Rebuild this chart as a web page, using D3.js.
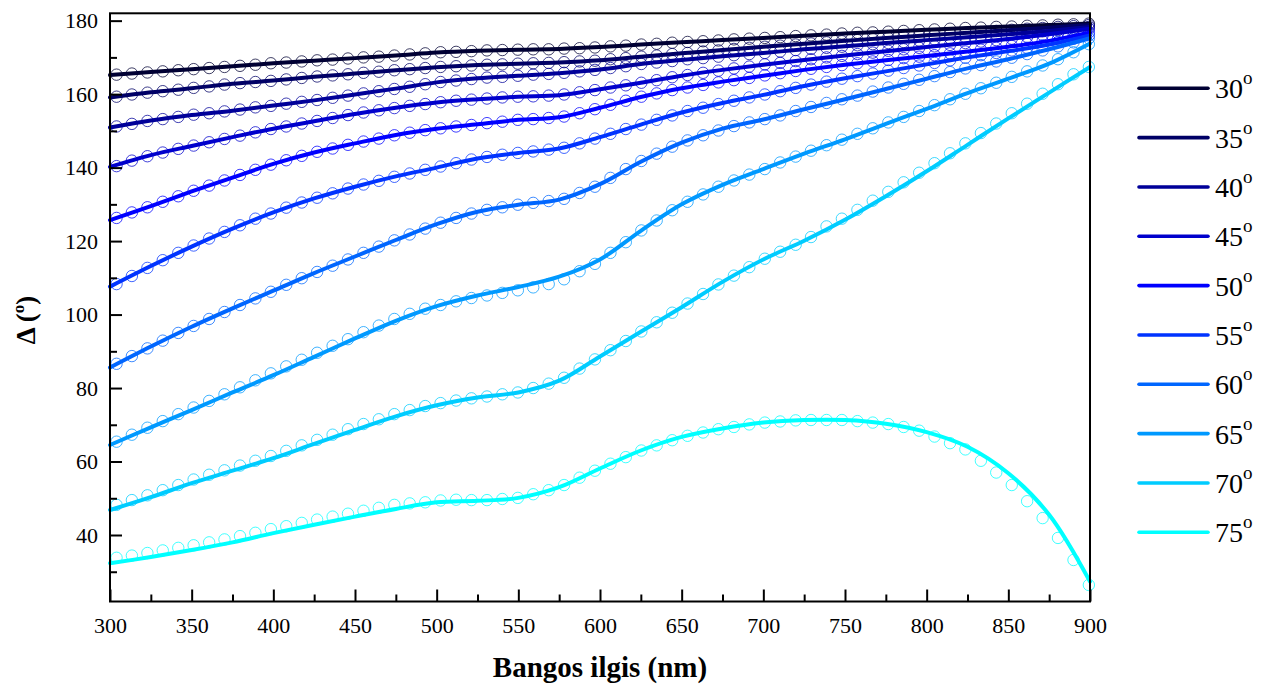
<!DOCTYPE html>
<html><head><meta charset="utf-8">
<script src="https://cdn.jsdelivr.net/npm/d3@7"></script>
<style>
body{margin:0;background:#fff}svg{display:block}
</style>
</head><body><svg id="c" width="1263" height="684"></svg>
<script>
// ---- DATA ----
const fitWavelengths = [300,325,350,375,400,425,450,475,500,525,550,575,600,625,650,675,700,725,750,775,800,825,850,875,900];
const measWavelengths = [304.0,313.4,322.9,332.3,341.8,351.2,360.7,370.1,379.6,389.0,398.5,407.9,417.4,426.8,436.3,445.7,455.2,464.6,474.1,483.5,493.0,502.4,511.9,521.3,530.8,540.2,549.7,559.1,568.6,578.0,587.5,596.9,606.4,615.8,625.3,634.7,644.2,653.6,663.1,672.5,682.0,691.4,700.9,710.3,719.8,729.2,738.7,748.1,757.6,767.0,776.5,785.9,795.4,804.8,814.3,823.7,833.2,842.6,852.1,861.5,871.0,880.4,889.9,899.3];
const angles = ["30","35","40","45","50","55","60","65","70","75"];
const xTicks = [300,350,400,450,500,550,600,650,700,750,800,850,900];
const xMinorTicks = [325,375,425,475,525,575,625,675,725,775,825,875];
const yTicks = [40,60,80,100,120,140,160,180];
const yMinorTicks = [30,50,70,90,110,130,150,170];

const fit30 = [165.2,166.0,166.8,167.6,168.4,169.1,169.8,170.5,171.3,171.8,172.1,172.3,172.8,173.5,174.1,174.7,175.3,175.9,176.5,177.0,177.5,178.0,178.4,178.8,179.2];
const fit35 = [159.1,160.5,161.6,162.8,163.7,164.7,165.6,166.5,167.3,167.9,168.3,168.6,169.2,170.2,171.1,172.0,172.9,173.7,174.5,175.3,176.0,176.7,177.4,178.1,178.8];
const fit40 = [150.9,152.8,154.3,155.5,156.9,158.3,159.9,161.5,163.2,164.3,165.0,165.7,166.7,168.2,169.3,170.3,171.2,172.2,173.0,173.9,174.7,175.5,176.3,177.2,178.3];
const fit45 = [140.2,143.4,145.9,148.3,150.6,152.6,154.6,156.3,157.7,158.6,159.3,159.7,161.3,163.1,165.0,166.6,168.0,169.3,170.5,171.7,172.8,173.9,175.0,176.3,177.8];
const fit50 = [125.7,129.5,133.5,137.3,141.0,144.1,146.6,148.9,150.6,151.8,153.0,153.7,156.3,159.2,161.6,163.4,165.0,166.6,168.0,169.2,170.4,171.6,172.9,174.5,176.8];
const fit55 = [107.6,113.2,118.5,123.4,127.8,131.6,134.8,137.6,140.0,142.5,144.0,145.2,148.3,151.7,155.0,157.6,159.8,162.2,164.3,166.2,168.1,170.0,171.7,173.5,176.0];
const fit60 = [85.6,91.3,96.7,101.7,106.5,111.3,115.8,120.3,124.6,128.0,129.9,131.3,135.5,141.6,146.8,150.6,153.1,155.9,158.6,161.4,164.2,167.0,169.5,172.2,175.2];
const fit65 = [64.5,69.3,74.0,78.8,83.5,88.5,93.5,98.3,102.3,105.2,107.5,110.3,115.0,122.8,130.0,135.3,139.6,143.8,147.7,151.9,156.0,160.3,164.2,168.3,173.8];
const fit70 = [46.8,50.3,54.1,57.5,60.9,64.8,68.6,72.3,75.3,77.4,78.8,82.0,88.6,95.3,102.0,108.9,115.0,120.1,125.8,132.2,139.0,146.2,153.4,160.4,167.4];
const fit75 = [32.3,34.0,35.9,38.0,40.5,42.8,45.0,47.1,48.9,49.3,50.1,53.0,58.1,63.0,66.7,69.0,70.6,71.3,71.3,70.3,68.0,64.0,56.8,45.5,27.3];

const meas30 = [165.3,165.6,165.9,166.2,166.5,166.8,167.1,167.4,167.7,168.0,168.4,168.6,168.9,169.2,169.4,169.7,170.0,170.2,170.5,170.8,171.1,171.4,171.5,171.7,171.9,172.0,172.1,172.2,172.2,172.4,172.5,172.7,173.0,173.2,173.5,173.7,174.0,174.2,174.4,174.6,174.9,175.1,175.3,175.5,175.8,176.0,176.2,176.5,176.7,176.8,177.0,177.2,177.4,177.6,177.8,178.0,178.1,178.3,178.4,178.6,178.7,178.9,179.0,179.2];
const meas35 = [159.3,159.9,160.4,160.8,161.2,161.7,162.1,162.6,163.0,163.3,163.6,164.0,164.4,164.8,165.1,165.4,165.8,166.1,166.5,166.8,167.1,167.4,167.6,167.8,168.0,168.1,168.3,168.4,168.5,168.7,168.9,169.1,169.5,169.8,170.2,170.5,170.9,171.2,171.6,171.9,172.3,172.6,172.9,173.2,173.5,173.8,174.1,174.4,174.7,175.0,175.3,175.6,175.9,176.1,176.4,176.7,176.9,177.2,177.5,177.8,178.0,178.3,178.5,178.8];
const meas40 = [151.2,151.9,152.7,153.2,153.8,154.4,154.8,155.3,155.8,156.4,156.8,157.4,157.9,158.4,159.0,159.6,160.2,160.8,161.4,162.0,162.7,163.3,163.7,164.1,164.5,164.7,165.0,165.3,165.5,165.8,166.2,166.6,167.1,167.6,168.2,168.6,169.0,169.5,169.8,170.2,170.6,170.9,171.2,171.6,172.0,172.3,172.6,172.9,173.3,173.6,173.9,174.2,174.6,174.9,175.2,175.5,175.8,176.1,176.4,176.7,177.1,177.4,177.8,178.3];
const meas45 = [140.4,141.9,143.1,144.1,145.1,146.0,146.9,147.8,148.7,149.6,150.5,151.2,152.0,152.7,153.5,154.3,155.0,155.6,156.2,156.8,157.3,157.8,158.2,158.5,158.8,159.1,159.3,159.4,159.6,159.9,160.5,161.1,161.8,162.4,163.1,163.8,164.6,165.2,165.8,166.4,167.0,167.5,168.1,168.5,169.0,169.5,170.0,170.4,170.9,171.3,171.8,172.2,172.6,173.0,173.4,173.9,174.3,174.7,175.1,175.6,176.1,176.6,177.2,177.8];
const meas50 = [126.3,127.8,129.2,130.7,132.2,133.7,135.1,136.5,138.0,139.4,140.8,142.0,143.2,144.3,145.2,146.2,147.1,147.9,148.8,149.5,150.2,150.7,151.2,151.6,152.1,152.5,153.0,153.2,153.5,153.9,154.8,155.9,157.1,158.2,159.3,160.2,161.1,161.8,162.5,163.2,163.8,164.4,165.1,165.7,166.3,166.9,167.4,167.9,168.4,168.9,169.3,169.8,170.2,170.6,171.1,171.6,172.1,172.6,173.1,173.7,174.4,175.1,175.9,176.8];
const meas55 = [108.3,110.5,112.7,114.8,116.8,118.8,120.7,122.5,124.3,126.1,127.5,129.1,130.5,131.8,133.0,134.3,135.4,136.4,137.5,138.4,139.4,140.3,141.2,142.2,142.9,143.5,144.0,144.4,144.9,145.4,146.6,147.9,149.2,150.5,151.7,153.0,154.2,155.4,156.3,157.3,158.2,159.1,159.9,160.8,161.7,162.6,163.4,164.2,164.9,165.6,166.4,167.1,167.8,168.5,169.2,169.9,170.6,171.2,171.9,172.6,173.3,174.2,175.1,176.0];
const meas60 = [86.6,88.7,90.8,92.9,95.0,96.9,98.8,100.7,102.6,104.4,106.2,108.1,109.9,111.6,113.3,115.0,116.8,118.5,120.2,121.8,123.4,125.0,126.3,127.5,128.5,129.2,129.9,130.4,130.9,131.5,133.1,134.8,137.2,139.6,141.8,143.8,145.7,147.4,148.8,150.1,151.3,152.3,153.2,154.2,155.4,156.5,157.6,158.6,159.6,160.7,161.8,162.8,163.9,164.9,166.0,167.0,167.9,168.9,169.9,170.9,171.9,173.0,174.1,175.2];
const meas65 = [65.4,67.3,69.2,71.0,72.9,74.7,76.5,78.3,80.2,82.1,84.0,85.9,87.7,89.6,91.5,93.3,95.2,97.0,98.8,100.2,101.6,102.6,103.6,104.5,105.2,105.9,106.6,107.4,108.3,109.6,111.8,113.8,116.8,119.7,122.9,125.6,128.4,130.7,132.7,134.8,136.5,138.1,139.6,141.4,143.0,144.6,146.1,147.6,149.2,150.7,152.3,153.8,155.4,157.0,158.6,160.1,161.6,163.1,164.7,166.2,167.8,169.5,171.4,173.6];
const meas70 = [48.2,49.5,50.8,52.2,53.6,55.1,56.4,57.6,58.9,60.2,61.5,62.9,64.4,65.9,67.3,68.8,70.2,71.5,72.9,74.0,75.1,75.9,76.6,77.2,77.7,78.3,78.8,80.0,81.2,82.8,85.3,87.8,90.3,92.8,95.4,97.9,100.5,103.0,105.6,108.2,110.6,112.9,115.2,117.1,119.0,121.1,124.0,126.1,128.5,131.0,133.4,136.0,138.6,141.2,143.9,146.6,149.4,152.0,154.8,157.4,160.1,162.7,165.4,167.4];
const meas75 = [33.8,34.4,35.1,35.8,36.5,37.2,38.0,38.8,39.7,40.6,41.6,42.4,43.3,44.2,45.0,45.8,46.6,47.4,48.2,48.6,48.9,49.4,49.6,49.5,49.5,49.8,50.1,51.1,52.2,53.6,55.6,57.5,59.4,61.2,63.0,64.4,65.8,67.0,67.9,68.8,69.4,70.1,70.6,70.9,71.2,71.3,71.3,71.3,71.0,70.6,70.2,69.4,68.4,66.8,65.0,63.3,60.2,57.0,53.6,49.2,44.6,39.2,33.2,26.4];

const fits = [fit30,fit35,fit40,fit45,fit50,fit55,fit60,fit65,fit70,fit75];
const meas = [meas30,meas35,meas40,meas45,meas50,meas55,meas60,meas65,meas70,meas75];
const colors = ["#000033","#000066","#000099","#0000cc","#0000ff","#0033ff","#0066ff","#0099ff","#00ccff","#00ffff"];

// ---- CHART ----
const svg = d3.select("#c");
const L = 110, R = 1090, T = 13.3, B = 601.5;
const x = d3.scaleLinear().domain([300, 900]).range([L, R]);
const y = d3.scaleLinear().domain([21.9, 182]).range([B, T]);
const font = 'Tinos, "Times New Roman", Times, "Liberation Serif", "DejaVu Serif", "Noto Serif", serif';

// circles (measured)
meas.forEach((arr, i) => {
  svg.append("g").selectAll("circle")
    .data(arr.map((v, j) => [measWavelengths[j], v]))
    .join("circle")
    .attr("cx", d => x(d[0])).attr("cy", d => y(d[1])).attr("r", 5.7)
    .attr("fill", "none").attr("stroke", colors[i]).attr("stroke-width", 1).attr("stroke-opacity", 0.75);
});

// fitted lines
const line = d3.line().x(d => x(d[0])).y(d => y(d[1])).curve(d3.curveCatmullRom.alpha(0.5));
fits.forEach((arr, i) => {
  svg.append("path")
    .attr("d", line(arr.map((v, j) => [fitWavelengths[j], v])))
    .attr("fill", "none").attr("stroke", colors[i]).attr("stroke-width", 4)
    .attr("stroke-linejoin", "round").attr("stroke-linecap", "round");
});

// axes
function styleAxis(g) {
  g.attr("font-family", font);
  g.select(".domain").remove();
  g.selectAll("line").attr("stroke", "#000").attr("stroke-width", 2);
  g.selectAll("text").attr("font-size", 22).attr("fill", "#000").attr("font-family", font);
}
svg.append("g").attr("transform", `translate(0,${B})`)
  .call(d3.axisBottom(x).tickValues(xTicks).tickSizeInner(-12).tickSizeOuter(0).tickPadding(16).tickFormat(d3.format("d")))
  .call(styleAxis);
svg.append("g").attr("transform", `translate(0,${B})`)
  .call(d3.axisBottom(x).tickValues(xMinorTicks).tickSizeInner(-7).tickSizeOuter(0).tickFormat(""))
  .call(styleAxis);
svg.append("g").attr("transform", `translate(${L},0)`)
  .call(d3.axisLeft(y).tickValues(yTicks).tickSizeInner(-12).tickSizeOuter(0).tickPadding(12).tickFormat(d3.format("d")))
  .call(styleAxis);
svg.append("g").attr("transform", `translate(${L},0)`)
  .call(d3.axisLeft(y).tickValues(yMinorTicks).tickSizeInner(-7).tickSizeOuter(0).tickFormat(""))
  .call(styleAxis);

// frame
svg.append("rect").attr("x", L).attr("y", T).attr("width", R - L).attr("height", B - T)
  .attr("fill", "none").attr("stroke", "#000").attr("stroke-width", 2);

// axis titles
svg.append("text").attr("x", (L + R) / 2).attr("y", 677)
  .attr("text-anchor", "middle").attr("font-family", font).attr("font-weight", "bold").attr("font-size", 29)
  .text("Bangos ilgis (nm)");
const yt = svg.append("text").attr("transform", "translate(35,320) rotate(-90)")
  .attr("text-anchor", "middle").attr("font-family", font).attr("font-weight", "bold").attr("font-size", 27);
yt.append("tspan").text("Δ (");
yt.append("tspan").attr("font-size", 17).attr("dy", -11).text("o");
yt.append("tspan").attr("dy", 11).text(")");

// legend
angles.forEach((a, i) => {
  const ly = 88.3 + i * 49.33;
  svg.append("line").attr("x1", 1139).attr("x2", 1208).attr("y1", ly).attr("y2", ly)
    .attr("stroke", colors[i]).attr("stroke-width", 3.6).attr("stroke-linecap", "round");
  const t = svg.append("text").attr("x", 1215).attr("y", ly + 10)
    .attr("font-family", font).attr("font-size", 28).attr("fill", "#000");
  t.append("tspan").text(a);
  t.append("tspan").attr("font-size", 19).attr("dy", -14).text("o");
});
</script></body></html>
